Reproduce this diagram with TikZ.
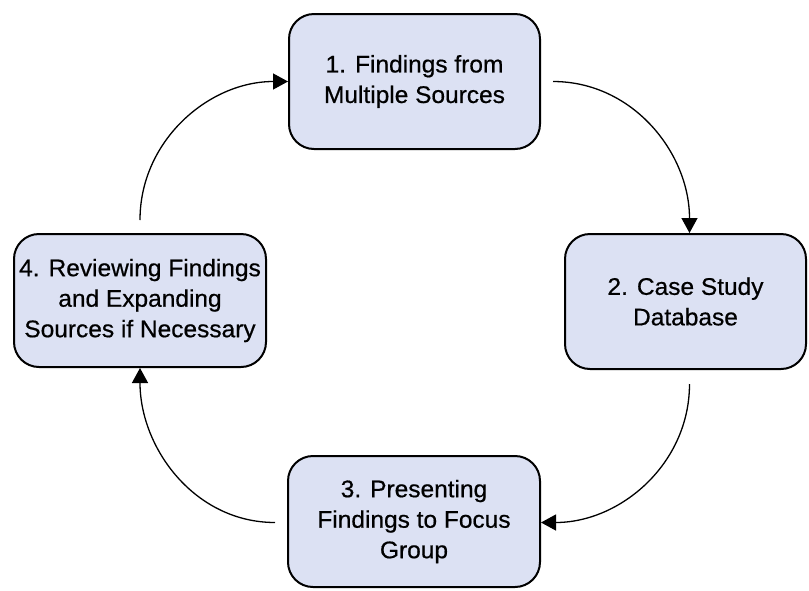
\documentclass[tikz,border=0pt]{standalone}
\usepackage{fontspec}
\setmainfont{Liberation Sans}[FakeStretch=1.02, FakeBold=0.6]
\usetikzlibrary{arrows.meta}

\definecolor{boxfill}{RGB}{220,225,243}

\tikzset{
  stagebox/.style={draw=black, line width=2pt, fill=boxfill, rounded corners=25pt,
    align=center, inner sep=0pt,
    font=\fontsize{24pt}{30.5pt}\selectfont},
  flow/.style={line width=1.3pt, -{Triangle[length=15pt,width=16pt]}}
}

\begin{document}
\begin{tikzpicture}[x=1pt, y=-1pt]
  \useasboundingbox (0,0) rectangle (809,590);

  % the four stages of the cycle
  \node[stagebox, minimum width=251pt, minimum height=135pt] (s1) at (414.5,81.5)
    {1. Findings from\\Multiple Sources};
  \node[stagebox, minimum width=241pt, minimum height=135pt] (s2) at (685.5,301.5)
    {2. Case Study\\Database};
  \node[stagebox, minimum width=252pt, minimum height=131pt] (s3) at (414,521.5)
    {3. Presenting\\Findings to Focus\\Group};
  \node[stagebox, minimum width=252pt, minimum height=133pt] (s4) at (140,300.5)
    {4. Reviewing Findings\\and Expanding\\Sources if Necessary};

  % curved connectors, clockwise
  \draw[flow] ([xshift=12pt]s1.east) to[out=0, in=90] ([xshift=4pt]s2.north);
  \draw[flow] ([xshift=4pt, yshift=-14pt]s2.south) to[out=-90, in=0] ([yshift=-1pt]s3.east);
  \draw[flow] ([xshift=-12pt, yshift=-1pt]s3.west) to[out=180, in=-90] (s4.south);
  \draw[flow] ([yshift=13pt]s4.north) to[out=90, in=180] (s1.west);
\end{tikzpicture}
\end{document}
